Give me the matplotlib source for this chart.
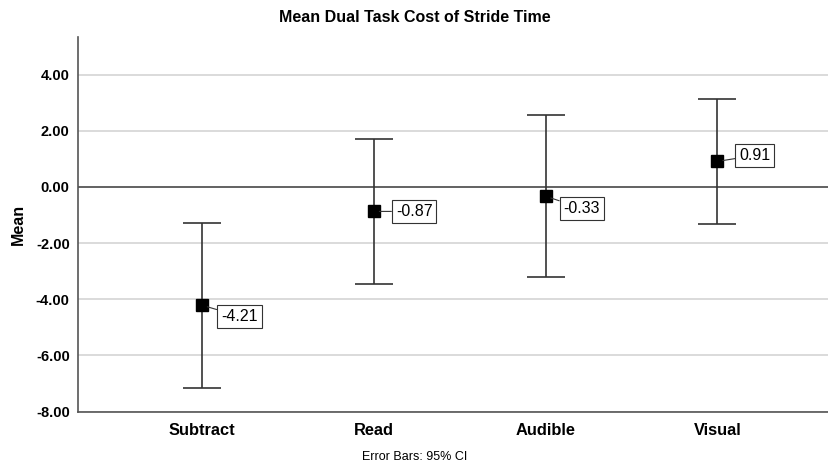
import numpy as np
import matplotlib.pyplot as plt

# Dual task cost of stride time, mean with 95% CI per condition
conditions = ['Subtract', 'Read', 'Audible', 'Visual']
means = [-4.21, -0.87, -0.33, 0.91]
ci_lower = [-7.14, -3.44, -3.21, -1.31]
ci_upper = [-1.27, 1.70, 2.55, 3.12]

# label placement (pixels from the marker)
label_offsets = [(19, -11), (22, 0), (18, -12), (22, 6)]

plt.rcParams['font.family'] = ['Liberation Sans', 'DejaVu Sans']

fig = plt.figure(figsize=(8.29, 4.66), dpi=100)
ax = fig.add_axes([0.0941, 0.1166, 0.9059, 0.804])

x = np.arange(len(conditions))
means_arr = np.array(means)
yerr = [means_arr - np.array(ci_lower), np.array(ci_upper) - means_arr]

# grid and zero reference line
for yv in np.arange(-8, 5, 2):
    if yv == 0:
        ax.axhline(yv, color='#555555', lw=1.3, zorder=1)
    else:
        ax.axhline(yv, color='#d4d4d4', lw=1.2, zorder=0)

ax.errorbar(x, means, yerr=yerr, fmt='none', ecolor='#333333', elinewidth=1.2,
            capsize=13.5, capthick=1.2, zorder=2)
ax.plot(x, means, 's', color='black', markersize=8, zorder=3)

for xi, m, (dx, dy) in zip(x, means, label_offsets):
    ax.annotate(f'{m:.2f}', xy=(xi, m), xytext=(dx, dy), textcoords='offset pixels',
                ha='left', va='center', fontsize=11.5, color='black', zorder=4,
                bbox=dict(boxstyle='square,pad=0.25', fc='white', ec='#333333', lw=0.8),
                arrowprops=dict(arrowstyle='-', color='#333333', lw=0.8,
                                shrinkA=0, shrinkB=4))

ax.set_xlim(-0.722, 3.65)
ax.set_ylim(-8, 5.34)
ax.set_yticks(np.arange(-8, 5, 2))
ax.set_yticklabels([f'{v:.2f}' for v in np.arange(-8, 5, 2)], fontweight='bold', fontsize=10.5)
ax.set_xticks(x)
ax.set_xticklabels(conditions, fontweight='bold', fontsize=11.8)
ax.tick_params(axis='both', length=0)
ax.tick_params(axis='y', pad=6)
ax.tick_params(axis='x', pad=8)

for side in ['top', 'right']:
    ax.spines[side].set_visible(False)
for side in ['left', 'bottom']:
    ax.spines[side].set_color('#555555')
    ax.spines[side].set_linewidth(1.2)

ax.set_ylabel('Mean', fontweight='bold', fontsize=11.5, labelpad=7)
fig.text(0.5, 1 - 18 / 466, 'Mean Dual Task Cost of Stride Time', ha='center', va='center',
         fontweight='bold', fontsize=11.5)
fig.text(0.5, 1 - 457 / 466, 'Error Bars: 95% CI', ha='center', va='center', fontsize=9)

fig.savefig('out.png', dpi=100)
